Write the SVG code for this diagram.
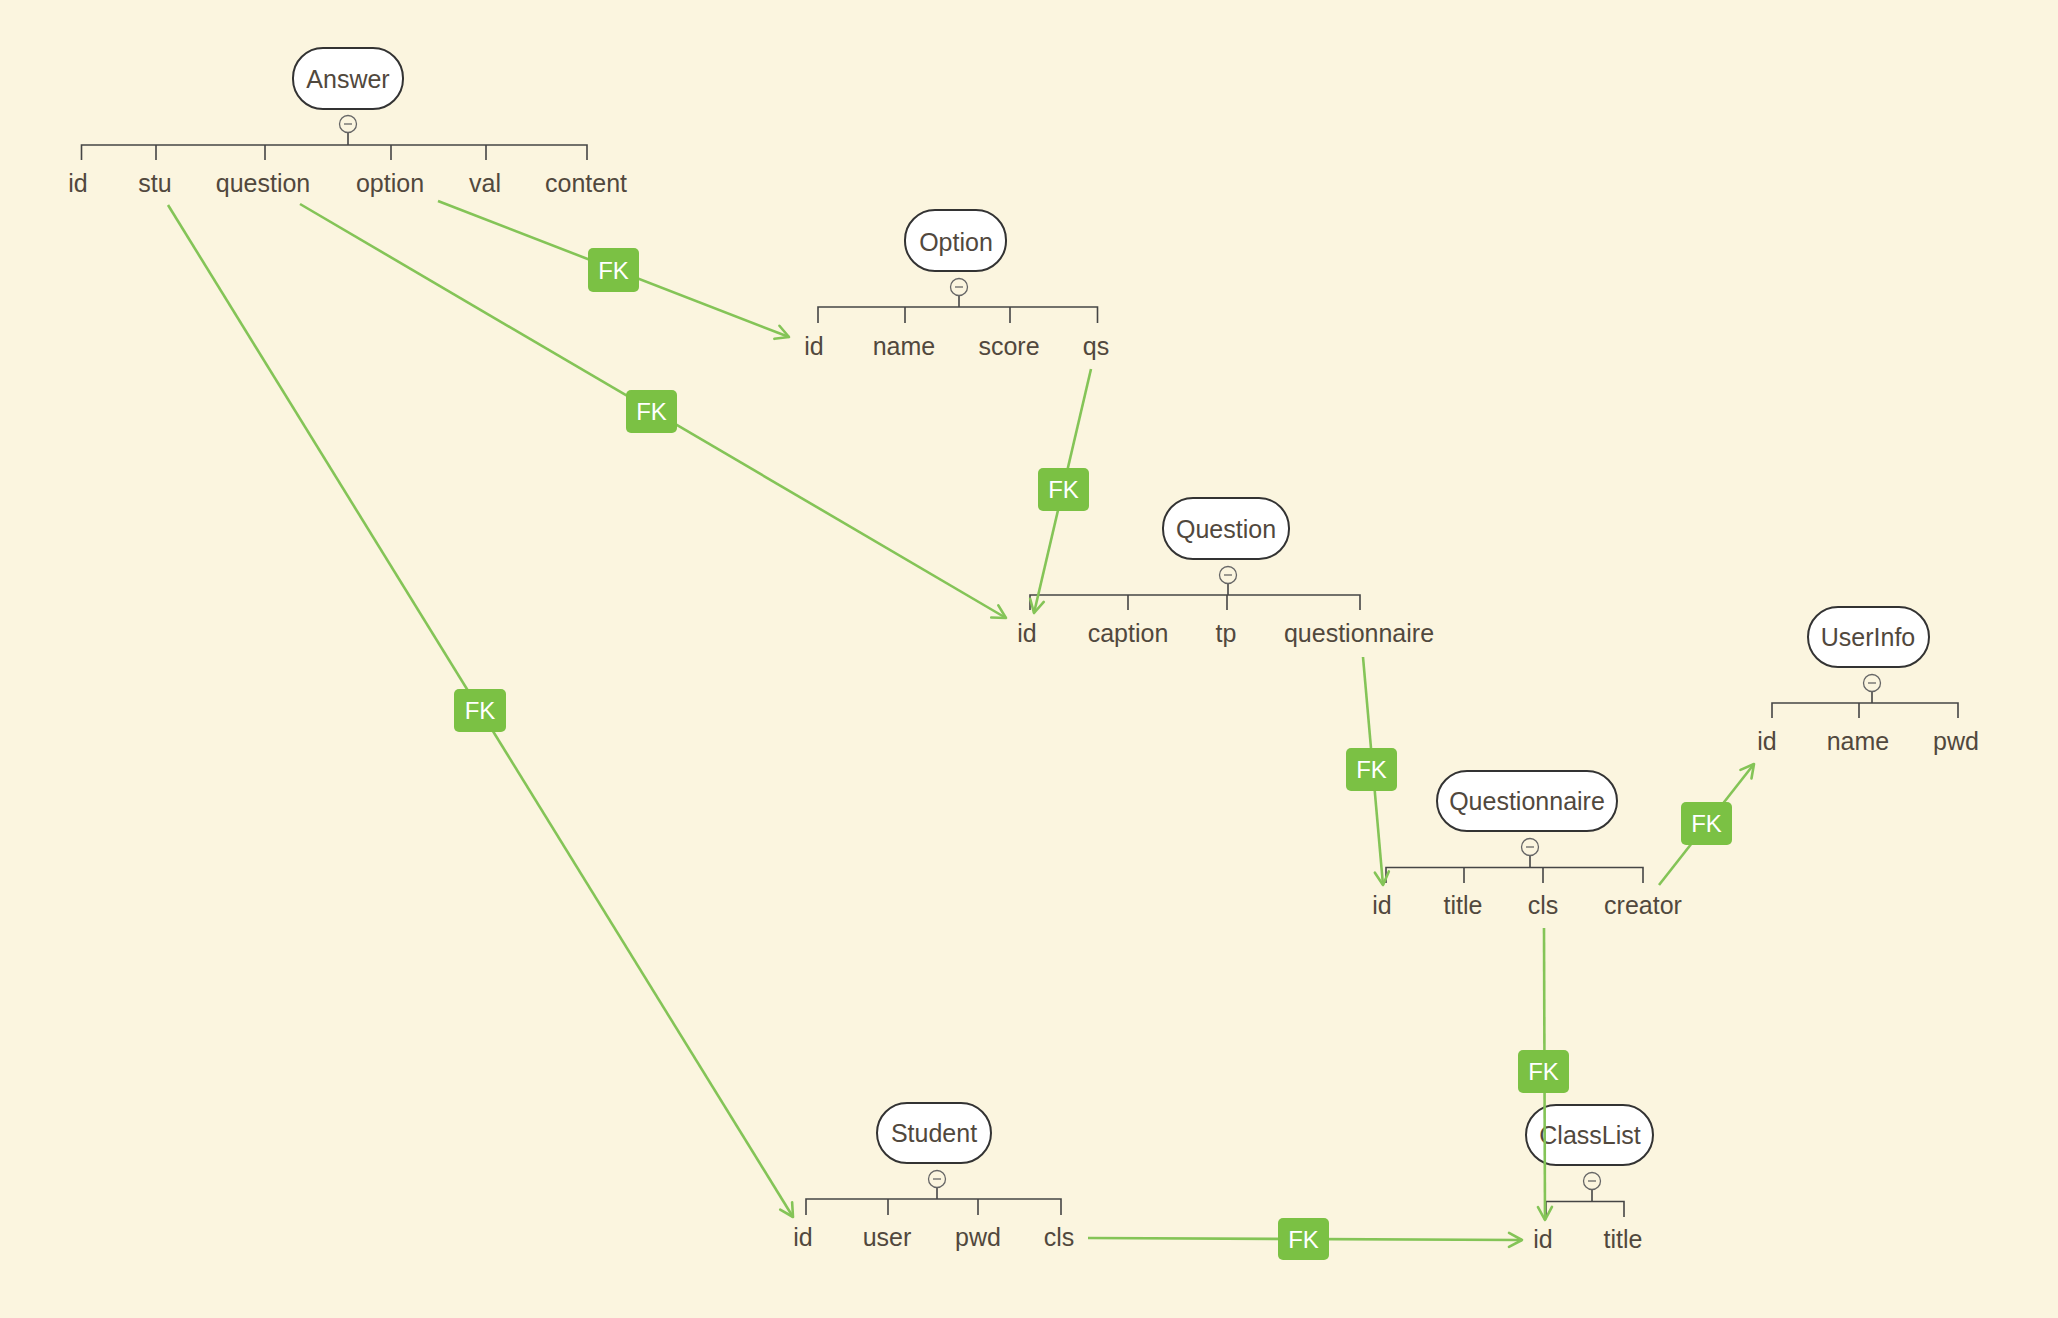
<svg xmlns="http://www.w3.org/2000/svg" width="2058" height="1318" viewBox="0 0 2058 1318">
<defs>
<style>
.bg{fill:#FBF5DF}
.box{fill:#ffffff;stroke:#333333;stroke-width:2}
.title{font-family:"Liberation Sans",Arial,sans-serif;font-size:25px;fill:#51483d;text-anchor:middle}
.field{font-family:"Liberation Sans",Arial,sans-serif;font-size:25px;fill:#51483d;text-anchor:middle}
.tree{stroke:#454545;stroke-width:1.6;fill:none}
.knob{fill:#FBF5DF;stroke:#666666;stroke-width:1.3}
.minus{stroke:#666666;stroke-width:1.3}
.conn{stroke:#84c457;stroke-width:2.6;fill:none}
.badge{fill:#7bc144}
.fk{font-family:"Liberation Sans",Arial,sans-serif;font-size:24px;fill:#ffffff;text-anchor:middle}
</style>
<marker id="arr" viewBox="0 0 18 18" refX="16" refY="9" markerWidth="18" markerHeight="18" markerUnits="userSpaceOnUse" orient="auto">
<path d="M3,2 L16,9 L3,16" fill="none" stroke="#84c457" stroke-width="2.6" stroke-linecap="round" stroke-linejoin="round"/>
</marker>
</defs>
<rect class="bg" x="0" y="0" width="2058" height="1318"/>

<g id="node-answer">
<rect class="box" x="293" y="48" width="110" height="61" rx="30"/>
<text class="title" x="348" y="88">Answer</text>
<line class="tree" x1="348" y1="132.5" x2="348" y2="145"/>
<circle class="knob" cx="348" cy="124" r="8.5"/>
<line class="minus" x1="344" y1="124" x2="352" y2="124"/>
<path class="tree" d="M81.5,160 V145 H587 V160 M156,145 V160 M265,145 V160 M391,145 V160 M486,145 V160"/>
<text class="field" x="78" y="192">id</text>
<text class="field" x="155" y="192">stu</text>
<text class="field" x="263" y="192">question</text>
<text class="field" x="390" y="192">option</text>
<text class="field" x="485" y="192">val</text>
<text class="field" x="586" y="192">content</text>
</g>

<g id="node-option">
<rect class="box" x="905" y="210" width="101" height="61" rx="30"/>
<text class="title" x="956" y="251">Option</text>
<line class="tree" x1="959" y1="295.5" x2="959" y2="307"/>
<circle class="knob" cx="959" cy="287" r="8.5"/>
<line class="minus" x1="955" y1="287" x2="963" y2="287"/>
<path class="tree" d="M818,323 V307 H1097.5 V323 M905,307 V323 M1010,307 V323"/>
<text class="field" x="814" y="355">id</text>
<text class="field" x="904" y="355">name</text>
<text class="field" x="1009" y="355">score</text>
<text class="field" x="1096" y="355">qs</text>
</g>

<g id="node-question">
<rect class="box" x="1163" y="498" width="126" height="61" rx="30"/>
<text class="title" x="1226" y="538">Question</text>
<line class="tree" x1="1228" y1="583.5" x2="1228" y2="595"/>
<circle class="knob" cx="1228" cy="575" r="8.5"/>
<line class="minus" x1="1224" y1="575" x2="1232" y2="575"/>
<path class="tree" d="M1030,610 V595 H1360 V610 M1128,595 V610 M1227,595 V610"/>
<text class="field" x="1027" y="642">id</text>
<text class="field" x="1128" y="642">caption</text>
<text class="field" x="1226" y="642">tp</text>
<text class="field" x="1359" y="642">questionnaire</text>
</g>

<g id="node-userinfo">
<rect class="box" x="1808" y="607" width="121" height="60" rx="30"/>
<text class="title" x="1868" y="646">UserInfo</text>
<line class="tree" x1="1872" y1="691.5" x2="1872" y2="703"/>
<circle class="knob" cx="1872" cy="683" r="8.5"/>
<line class="minus" x1="1868" y1="683" x2="1876" y2="683"/>
<path class="tree" d="M1772,718 V703 H1958 V718 M1859,703 V718"/>
<text class="field" x="1767" y="750">id</text>
<text class="field" x="1858" y="750">name</text>
<text class="field" x="1956" y="750">pwd</text>
</g>

<g id="node-questionnaire">
<rect class="box" x="1437" y="771" width="180" height="60" rx="30"/>
<text class="title" x="1527" y="810">Questionnaire</text>
<line class="tree" x1="1530" y1="855.5" x2="1530" y2="867.5"/>
<circle class="knob" cx="1530" cy="847" r="8.5"/>
<line class="minus" x1="1526" y1="847" x2="1534" y2="847"/>
<path class="tree" d="M1386,883 V867.5 H1643 V883 M1464,867.5 V883 M1543,867.5 V883"/>
<text class="field" x="1382" y="914">id</text>
<text class="field" x="1463" y="914">title</text>
<text class="field" x="1543" y="914">cls</text>
<text class="field" x="1643" y="914">creator</text>
</g>

<g id="node-student">
<rect class="box" x="877" y="1103" width="114" height="60" rx="30"/>
<text class="title" x="934" y="1142">Student</text>
<line class="tree" x1="937" y1="1187.5" x2="937" y2="1199"/>
<circle class="knob" cx="937" cy="1179" r="8.5"/>
<line class="minus" x1="933" y1="1179" x2="941" y2="1179"/>
<path class="tree" d="M806,1215 V1199 H1061 V1215 M888,1199 V1215 M978,1199 V1215"/>
<text class="field" x="803" y="1246">id</text>
<text class="field" x="887" y="1246">user</text>
<text class="field" x="978" y="1246">pwd</text>
<text class="field" x="1059" y="1246">cls</text>
</g>

<g id="node-classlist">
<rect class="box" x="1526" y="1105" width="127" height="60" rx="30"/>
<text class="title" x="1590" y="1144">ClassList</text>
<line class="tree" x1="1592" y1="1189.5" x2="1592" y2="1201.5"/>
<circle class="knob" cx="1592" cy="1181" r="8.5"/>
<line class="minus" x1="1588" y1="1181" x2="1596" y2="1181"/>
<path class="tree" d="M1546,1217 V1201.5 H1624 V1217"/>
<text class="field" x="1543" y="1248">id</text>
<text class="field" x="1623" y="1248">title</text>
</g>

<g id="connectors">
<line class="conn" x1="438" y1="201" x2="789" y2="337" marker-end="url(#arr)"/>
<line class="conn" x1="300" y1="204" x2="1006" y2="618" marker-end="url(#arr)"/>
<line class="conn" x1="168" y1="205" x2="793" y2="1217" marker-end="url(#arr)"/>
<line class="conn" x1="1091" y1="369" x2="1034" y2="613" marker-end="url(#arr)"/>
<line class="conn" x1="1363" y1="657" x2="1383" y2="885" marker-end="url(#arr)"/>
<line class="conn" x1="1659" y1="885" x2="1754" y2="764" marker-end="url(#arr)"/>
<line class="conn" x1="1544" y1="928" x2="1545" y2="1220" marker-end="url(#arr)"/>
<line class="conn" x1="1088" y1="1238" x2="1522" y2="1240" marker-end="url(#arr)"/>

<g id="fk1"><rect class="badge" x="588" y="248" width="51" height="44" rx="5"/><text class="fk" x="613.5" y="278.5">FK</text></g>
<g id="fk2"><rect class="badge" x="626" y="390" width="51" height="43" rx="5"/><text class="fk" x="651.5" y="420">FK</text></g>
<g id="fk3"><rect class="badge" x="454" y="689" width="52" height="43" rx="5"/><text class="fk" x="480" y="719">FK</text></g>
<g id="fk4"><rect class="badge" x="1038" y="468" width="51" height="43" rx="5"/><text class="fk" x="1063.5" y="498">FK</text></g>
<g id="fk5"><rect class="badge" x="1346" y="748" width="51" height="43" rx="5"/><text class="fk" x="1371.5" y="778">FK</text></g>
<g id="fk6"><rect class="badge" x="1681" y="802" width="51" height="43" rx="5"/><text class="fk" x="1706.5" y="832">FK</text></g>
<g id="fk7"><rect class="badge" x="1518" y="1050" width="51" height="43" rx="5"/><text class="fk" x="1543.5" y="1080">FK</text></g>
<g id="fk8"><rect class="badge" x="1278" y="1218" width="51" height="42" rx="5"/><text class="fk" x="1303.5" y="1247.5">FK</text></g>
</g>
</svg>
